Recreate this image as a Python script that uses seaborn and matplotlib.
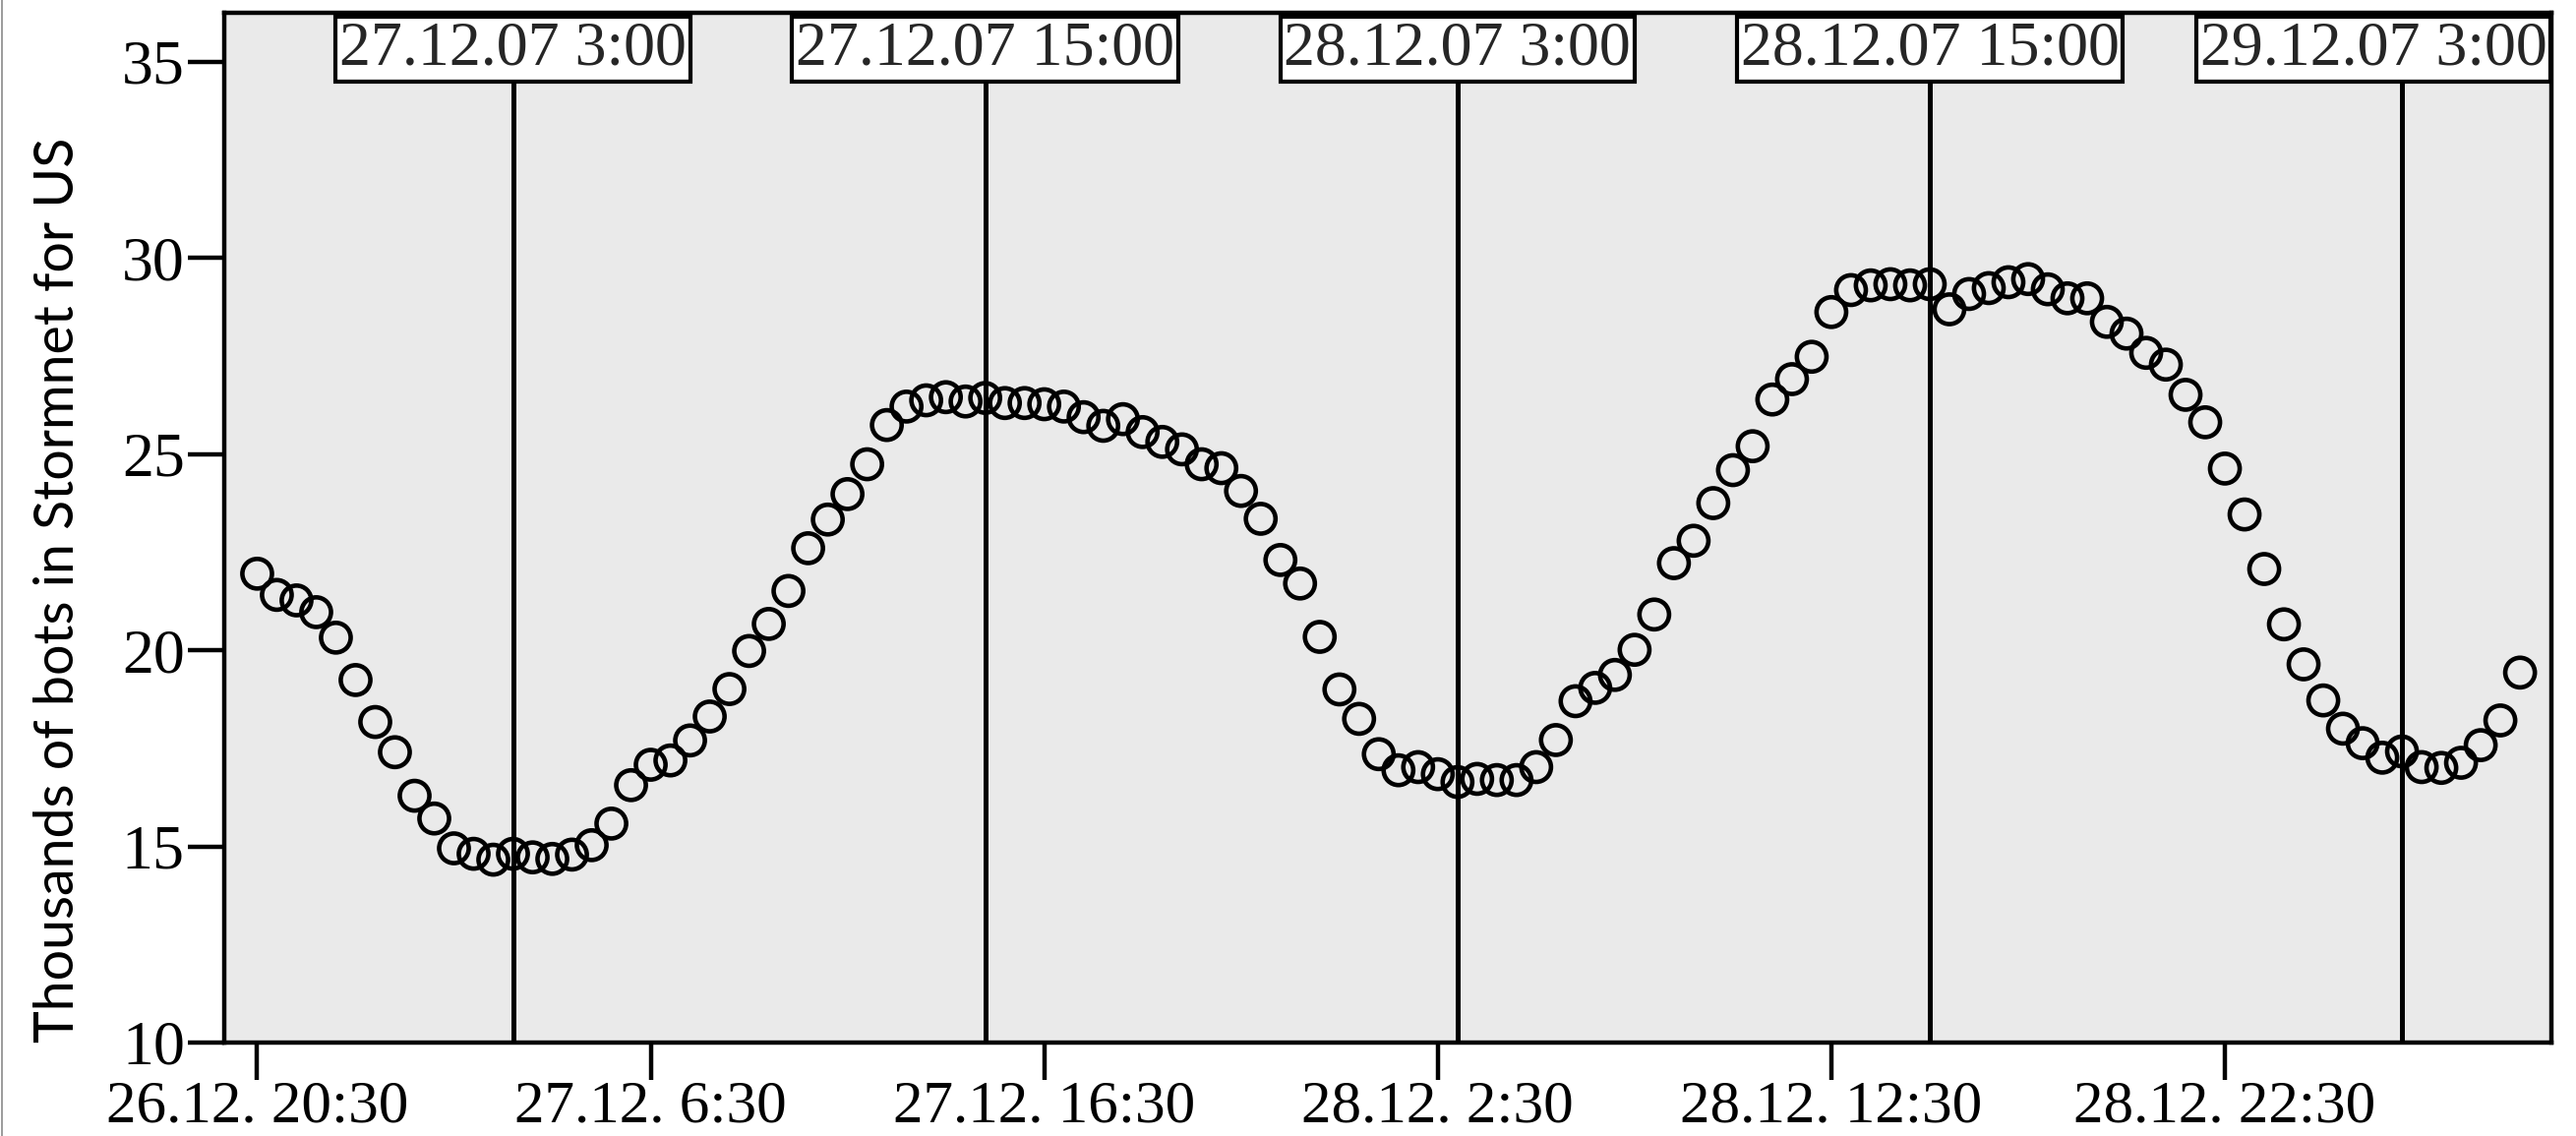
import matplotlib
matplotlib.use("Agg")
import matplotlib.pyplot as plt
import pandas as pd
import seaborn as sns

# Stormnet bots seen in the US (thousands), one reading every 30 minutes
start_time = "2007-12-26 20:30"
step = "30min"
bots_thousands = [
    21.95, 21.41, 21.27, 20.97, 20.32, 19.24, 18.17, 17.40, 16.29, 15.71,
    14.95, 14.81, 14.66, 14.81, 14.72, 14.68, 14.79, 15.03, 15.58, 16.56,
    17.08, 17.19, 17.70, 18.31, 19.01, 19.98, 20.67, 21.51, 22.60, 23.33,
    23.98, 24.74, 25.74, 26.21, 26.37, 26.45, 26.34, 26.43, 26.30, 26.30,
    26.27, 26.21, 25.94, 25.72, 25.89, 25.56, 25.31, 25.12, 24.74, 24.64,
    24.06, 23.35, 22.30, 21.70, 20.34, 19.00, 18.25, 17.35, 16.94, 17.02,
    16.84, 16.64, 16.72, 16.69, 16.69, 17.02, 17.71, 18.70, 19.04, 19.37,
    20.01, 20.91, 22.22, 22.79, 23.75, 24.59, 25.20, 26.39, 26.91, 27.48,
    28.62, 29.18, 29.30, 29.33, 29.30, 29.33, 28.69, 29.08, 29.23, 29.38,
    29.46, 29.20, 28.97, 28.97, 28.37, 28.07, 27.58, 27.28, 26.51, 25.81,
    24.63, 23.46, 22.07, 20.66, 19.64, 18.72, 18.00, 17.63, 17.26, 17.42,
    17.02, 17.00, 17.13, 17.58, 18.21, 19.43,
]

# reference lines (3:00 / 15:00)
marker_times = ["2007-12-27 03:00", "2007-12-27 15:00", "2007-12-28 03:00",
                "2007-12-28 15:00", "2007-12-29 03:00"]
marker_labels = ["27.12.07 3:00", "27.12.07 15:00", "28.12.07 3:00",
                 "28.12.07 15:00", "29.12.07 3:00"]

tick_times = ["2007-12-26 20:30", "2007-12-27 06:30", "2007-12-27 16:30",
              "2007-12-28 02:30", "2007-12-28 12:30", "2007-12-28 22:30"]
tick_labels = ["26.12. 20:30", "27.12. 6:30", "27.12. 16:30",
               "28.12. 2:30", "28.12. 12:30", "28.12. 22:30"]
y_ticks = [10, 15, 20, 25, 30, 35]

x_range = ("2007-12-26 19:40", "2007-12-29 06:48")
y_range = (10, 36.25)

sns.set_style("white")
plt.rcParams["font.family"] = ["Liberation Serif", "DejaVu Serif"]

df = pd.DataFrame({
    "time": pd.date_range(start_time, periods=len(bots_thousands), freq=step),
    "bots": bots_thousands,
})

fig = plt.figure(figsize=(26.19, 11.55), dpi=100)
ax = fig.add_axes([0.0871, 0.0823, 0.9034, 0.9065])
ax.set_facecolor("#eaeaea")

sns.scatterplot(data=df, x="time", y="bots", ax=ax, s=470,
                facecolor="none", edgecolor="black", linewidth=3.3, zorder=3)

for i, (t, lab) in enumerate(zip(marker_times, marker_labels)):
    ax.axvline(pd.Timestamp(t), color="black", lw=3.6, zorder=2)
    box = dict(boxstyle="square,pad=0.06", fc="white", ec="black", lw=3)
    if i == len(marker_times) - 1:
        # last box would run past the frame, pin it to the right edge
        ax.annotate(lab, xy=(1, 1), xycoords="axes fraction",
                    xytext=(-3.5, -6.0), textcoords="offset points",
                    ha="right", va="top", fontsize=46, bbox=box, zorder=4,
                    annotation_clip=False)
    else:
        ax.annotate(lab, xy=(pd.Timestamp(t), 1),
                    xycoords=("data", "axes fraction"),
                    xytext=(0, -6.0), textcoords="offset points",
                    ha="center", va="top", fontsize=46, bbox=box, zorder=4,
                    annotation_clip=False)

ax.set_xlim(pd.Timestamp(x_range[0]), pd.Timestamp(x_range[1]))
ax.set_ylim(*y_range)
ax.set_xticks([pd.Timestamp(t) for t in tick_times])
ax.set_xticklabels(tick_labels)
ax.set_yticks(y_ticks)
ax.set_yticklabels([str(v) for v in y_ticks])

ax.tick_params(axis="both", direction="out", length=27, width=3.2,
               color="black", labelcolor="black", bottom=True, left=True)
ax.tick_params(axis="x", pad=0.3, labelsize=44)
ax.tick_params(axis="y", pad=2, labelsize=46)

for sp in ax.spines.values():
    sp.set_visible(True)
    sp.set_color("black")
    sp.set_linewidth(3.2)

ax.set_xlabel("")
ax.set_ylabel("Thousands of bots in Stormnet for US", loc="bottom",
              fontsize=40, family="Lato", color="black", labelpad=28)

# thin grey frame line at the far left, as in the source image
fig.add_artist(plt.Line2D([0.0008, 0.0008], [0, 1], color="#8a8a8a", lw=1.2))

fig.savefig("out.png", dpi=100)
